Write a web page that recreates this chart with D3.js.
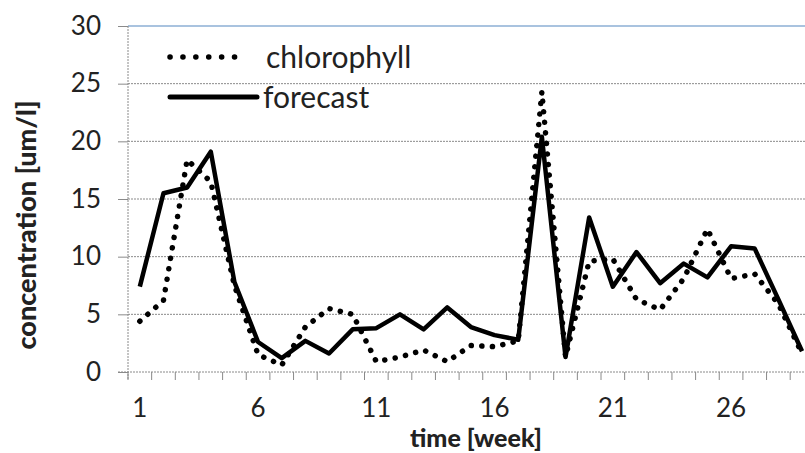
<!DOCTYPE html>
<meta charset="utf-8">
<script src="https://d3js.org/d3.v7.min.js"></script>
<style>
  body { margin: 0; background: #fff; }
  text { font-family: Lato, "Open Sans", sans-serif; fill: #222; }
</style>
<div id="chart"></div>
<script>
// weekly values
var weeks = d3.range(1, 30);
var chlorophyll = [4.4, 6.2, 18.4, 16.5, 7.5, 1.5, 0.6, 3.9, 5.5, 5.0,
                   0.9, 1.3, 1.9, 0.9, 2.3, 2.2, 2.7, 24.3, 1.3, 9.6,
                   9.8, 6.3, 5.4, 8.1, 12.4, 8.1, 8.5, 5.9, 1.6];
var forecast = [7.4, 15.5, 16.0, 19.1, 7.8, 2.6, 1.2, 2.7, 1.6, 3.7,
                3.8, 5.0, 3.7, 5.6, 3.9, 3.2, 2.8, 20.4, 1.3, 13.4,
                7.4, 10.4, 7.7, 9.4, 8.2, 10.9, 10.7, 6.3, 1.8];
var yTicks = [0, 5, 10, 15, 20, 25, 30];
var xLabels = [1, 6, 11, 16, 21, 26];

var W = 805, H = 453;
var plotLeft = 128, plotTop = 26, plotBottom = 372;
var step = 23.65;

var svg = d3.select("#chart").append("svg")
    .attr("width", W).attr("height", H);

var x = d3.scaleLinear()
    .domain([0.5, 29.5])
    .range([plotLeft, plotLeft + 29 * step]);
var y = d3.scaleLinear()
    .domain([0, 30])
    .range([plotBottom, plotTop]);

// horizontal grid
svg.append("g").selectAll("line")
  .data(yTicks.filter(function(d) { return d > 0 && d < 30; }))
  .enter().append("line")
    .attr("x1", plotLeft).attr("x2", W)
    .attr("y1", function(d) { return y(d); })
    .attr("y2", function(d) { return y(d); })
    .attr("stroke", "#8a8a8a")
    .attr("stroke-width", 1)
    .attr("stroke-dasharray", "2,1");

// top border (light blue)
svg.append("line")
    .attr("x1", plotLeft).attr("x2", W)
    .attr("y1", y(30)).attr("y2", y(30))
    .attr("stroke", "#a9c3df").attr("stroke-width", 2);

// y axis
var yAxis = svg.append("g")
    .attr("transform", "translate(" + plotLeft + ",0)")
    .call(d3.axisLeft(y).tickValues(yTicks).tickSize(10).tickPadding(17));
yAxis.select(".domain").attr("stroke", "#8a8a8a").attr("stroke-dasharray", "2,1")
    .attr("d", "M0," + plotTop + "V" + (plotBottom + 8));
yAxis.selectAll(".tick line").attr("stroke", "#8a8a8a");
yAxis.selectAll("text").style("font-size", "26px").attr("fill", "#333")
    .style("font-family", "Lato, sans-serif");

// x axis: ticks between weeks, labels every fifth week
var xAxis = svg.append("g")
    .attr("transform", "translate(0," + plotBottom + ")");
xAxis.append("line")
    .attr("x1", plotLeft - 10).attr("x2", W)
    .attr("stroke", "#8a8a8a").attr("stroke-dasharray", "2,1");
xAxis.selectAll(".tk")
  .data(d3.range(0.5, 30, 1))
  .enter().append("line")
    .attr("class", "tk")
    .attr("x1", function(d) { return x(d); })
    .attr("x2", function(d) { return x(d); })
    .attr("y1", 0).attr("y2", 8)
    .attr("stroke", "#8a8a8a");
xAxis.selectAll("text")
  .data(xLabels)
  .enter().append("text")
    .attr("x", function(d) { return x(d); })
    .attr("y", 45)
    .attr("text-anchor", "middle")
    .style("font-size", "26px")
    .attr("fill", "#333")
    .text(function(d) { return d; });

var line = d3.line()
    .x(function(d, i) { return x(weeks[i]); })
    .y(function(d) { return y(d); });

svg.append("path")
    .datum(chlorophyll)
    .attr("d", line)
    .attr("fill", "none")
    .attr("stroke", "#000")
    .attr("stroke-width", 5.5)
    .attr("stroke-linecap", "round")
    .attr("stroke-dasharray", "0.1,10.5");

svg.append("path")
    .datum(forecast)
    .attr("d", line)
    .attr("fill", "none")
    .attr("stroke", "#000")
    .attr("stroke-width", 4.5)
    .attr("stroke-linejoin", "round");

// legend
var lg = svg.append("g");
lg.append("line")
    .attr("x1", 170).attr("x2", 247).attr("y1", 57).attr("y2", 57)
    .attr("stroke", "#000").attr("stroke-width", 5.5)
    .attr("stroke-linecap", "round").attr("stroke-dasharray", "0.1,12.8");
lg.append("text").attr("x", 266).attr("y", 57).attr("dy", "0.35em")
    .style("font-size", "30px").text("chlorophyll");
lg.append("line")
    .attr("x1", 170).attr("x2", 257).attr("y1", 97).attr("y2", 97)
    .attr("stroke", "#000").attr("stroke-width", 5)
    .attr("stroke-linecap", "round");
lg.append("text").attr("x", 263).attr("y", 97).attr("dy", "0.35em")
    .style("font-size", "30px").text("forecast");

// axis titles
svg.append("text")
    .attr("x", 476).attr("y", 447)
    .attr("text-anchor", "middle")
    .style("font-size", "25px").style("font-weight", "900")
    .attr("fill", "#000")
    .text("time [week]");
svg.append("text")
    .attr("transform", "translate(36,225) rotate(-90)")
    .attr("text-anchor", "middle")
    .style("font-size", "27px").style("font-weight", "900")
    .attr("fill", "#000")
    .text("concentration  [um/l]");
</script>
